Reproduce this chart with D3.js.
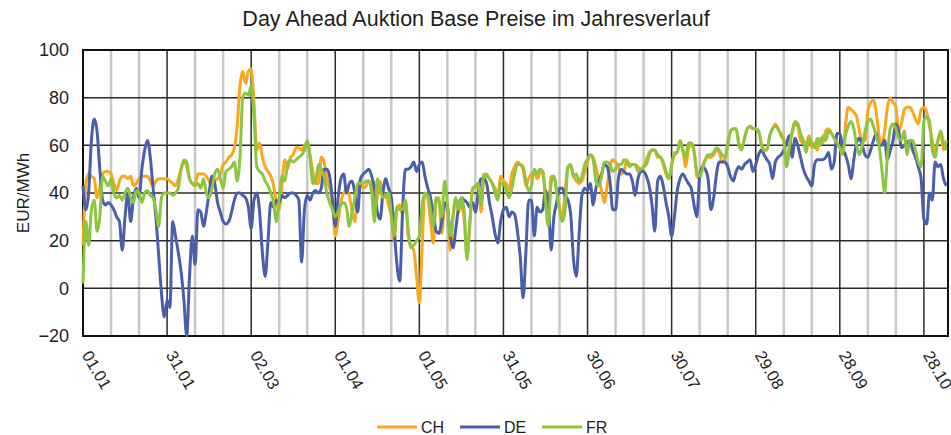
<!DOCTYPE html>
<html>
<head>
<meta charset="utf-8">
<script src="https://cdn.jsdelivr.net/npm/d3@7/dist/d3.min.js"></script>
<style>
body { margin: 0; background: #fff; }
text { font-family: "Liberation Sans", Arial, sans-serif; fill: #1e1e1e; }
</style>
</head>
<body>
<script>
window.document.addEventListener('DOMContentLoaded', init, false);

var width = 951;
var height = 435;
var margin = {top: 50, right: 3, bottom: 99, left: 83};
var svg, x, y;

// day index 0 = 01.01
var tickDays = [0, 30, 60, 90, 120, 150, 180, 210, 240, 270, 300];
var tickLabels = ['01.01', '31.01', '02.03', '01.04', '01.05', '31.05', '30.06', '30.07', '29.08', '28.09', '28.10'];
var minorDays = [10, 20, 40, 50, 70, 80, 100, 110, 130, 140, 160, 170, 190, 200, 220, 230, 250, 260, 280, 290];
var yTicks = [-20, 0, 20, 40, 60, 80, 100];
var seriesNames = ['CH', 'DE', 'FR'];

var chValues = [
    18, 44, 48, 47, 46, 38, 42, 48, 49, 49,
    48, 44, 41, 45, 47, 47, 46, 47, 43, 44,
    46, 47, 47, 47, 45, 43, 45, 46, 46, 46,
    46, 45, 44, 43, 46, 50, 53, 51, 46, 44,
    44, 48, 48, 48, 47, 45, 43, 45, 46, 48,
    52, 53, 55, 56, 59, 68, 85, 91, 86, 91,
    92, 78, 58, 61, 55, 51, 49, 47, 43, 36,
    33, 44, 54, 50, 55, 56, 59, 59, 58, 60,
    61, 56, 49, 44, 44, 55, 53, 46, 42, 36,
    22, 28, 36, 40, 41, 39, 32, 28, 42, 44,
    42, 43, 45, 43, 36, 38, 45, 40, 39, 35,
    30, 20, 34, 35, 31, 37, 22, 18, 16, 5,
    -6, 18, 40, 38, 28, 19, 37, 38, 23, 35,
    33, 16, 30, 38, 32, 35, 29, 14, 26, 42,
    42, 44, 32, 46, 48, 46, 44, 42, 39, 47,
    45, 44, 41, 48, 51, 53, 52, 50, 43, 46,
    48, 49, 46, 48, 49, 40, 33, 47, 47, 41,
    34, 30, 41, 51, 51, 47, 45, 44, 45, 49,
    53, 56, 55, 51, 46, 41, 36, 43, 51, 54,
    53, 51, 48, 49, 54, 52, 52, 52, 51, 49,
    51, 54, 57, 58, 58, 55, 55, 52, 48, 46,
    51, 57, 57, 62, 58, 51, 58, 61, 58, 47,
    46, 51, 54, 55, 55, 56, 58, 57, 53, 54,
    61, 66, 67, 67, 61, 59, 63, 67, 68, 67,
    67, 66, 61, 58, 58, 64, 67, 69, 67, 65,
    63, 51, 60, 65, 69, 68, 62, 61, 61, 64,
    59, 61, 58, 63, 61, 66, 67, 65, 63, 61,
    59, 56, 68, 76, 75, 74, 72, 66, 62, 62,
    74, 78, 79, 74, 64, 60, 66, 76, 80, 78,
    76, 66, 69, 75, 76, 76, 74, 71, 69, 75,
    76, 74, 68, 62, 57, 62, 65, 58, 62
];

var deValues = [
    43, 33, 40, 62, 71, 66, 50, 37, 35, 36,
    35, 33, 30, 28, 16, 30, 40, 28, 38, 42,
    38, 50, 58, 62, 55, 42, 30, 14, -2, -12,
    -5, -8, 28, 22, 15, 7, -5, -20, 5, 22,
    10, 33, 32, 26, 32, 40, 47, 44, 36, 32,
    28, 27, 28, 32, 37, 40, 40, 39, 38, 34,
    25, 37, 40, 32, 15, 5, 20, 36, 34, 37,
    36, 39, 38, 39, 40, 40, 39, 37, 11, 33,
    39, 37, 40, 41, 40, 42, 50, 50, 47, 37,
    26, 38, 46, 48, 40, 44, 45, 40, 32, 46,
    48, 49, 50, 47, 42, 32, 29, 40, 46, 42,
    38, 25, 10, 3, 32, 50, 50, 51, 53, 49,
    52, 53, 47, 42, 38, 31, 24, 23, 28, 36,
    34, 22, 17, 25, 34, 38, 37, 36, 34, 36,
    32, 40, 46, 46, 44, 36, 30, 23, 19, 28,
    33, 34, 30, 32, 31, 24, 13, -4, 15, 37,
    37, 22, 34, 32, 33, 41, 36, 16, 30, 36,
    42, 42, 39, 37, 31, 12, 5, 23, 39, 42,
    41, 44, 35, 42, 45, 48, 52, 51, 45, 33,
    33, 46, 50, 49, 48, 48, 45, 39, 46, 49,
    49, 47, 43, 35, 24, 45, 47, 43, 36, 30,
    22, 30, 41, 46, 48, 46, 44, 42, 35, 30,
    47, 51, 50, 46, 33, 38, 48, 53, 53, 53,
    51, 47, 45, 49, 51, 50, 52, 53, 54, 49,
    52, 56, 58, 56, 54, 52, 46, 53, 55, 56,
    58, 61, 64, 55, 63, 60, 55, 50, 47, 45,
    43, 52, 54, 54, 54, 55, 57, 50, 53, 65,
    65, 59, 56, 52, 46, 54, 61, 63, 60, 56,
    55, 58, 62, 65, 60, 60, 62, 54, 58, 62,
    69, 66, 59, 60, 61, 62, 58, 55, 51, 46,
    29, 27, 40, 37, 53, 51, 52, 46, 43
];

var frValues = [
    2, 28, 18, 33, 37, 24, 30, 47, 45, 43,
    46, 40, 38, 39, 37, 40, 42, 38, 36, 41,
    40, 36, 40, 41, 39, 38, 33, 26, 38, 40,
    40, 40, 39, 40, 42, 50, 54, 53, 46, 44,
    43, 44, 42, 46, 40, 38, 42, 48, 50, 46,
    42, 49, 50, 51, 53, 45, 55, 80, 82, 81,
    85, 72, 51, 49, 48, 45, 43, 40, 36, 28,
    38, 47, 45, 52, 54, 53, 54, 55, 56, 58,
    62, 55, 44, 45, 52, 50, 47, 40, 36, 33,
    30, 32, 35, 36, 34, 26, 32, 38, 44, 44,
    44, 45, 45, 40, 28, 46, 42, 38, 39, 40,
    31, 22, 34, 33, 33, 37, 25, 17, 18, 20,
    22, 35, 40, 39, 33, 26, 38, 36, 30, 45,
    36, 22, 30, 38, 33, 38, 32, 12, 28, 42,
    43, 44, 35, 48, 47, 46, 44, 40, 37, 44,
    44, 41, 38, 42, 48, 52, 52, 51, 45, 41,
    43, 50, 48, 50, 49, 37, 26, 44, 47, 40,
    33, 28, 33, 51, 52, 47, 48, 45, 47, 52,
    54, 56, 54, 45, 43, 47, 53, 53, 52, 49,
    50, 52, 52, 54, 53, 51, 52, 52, 49, 50,
    51, 52, 56, 58, 58, 56, 55, 53, 49, 46,
    52, 56, 57, 62, 58, 55, 61, 61, 57, 49,
    47, 50, 54, 56, 56, 57, 59, 58, 56, 55,
    60, 66, 67, 67, 60, 58, 63, 67, 68, 67,
    67, 66, 60, 58, 58, 64, 67, 68, 67, 64,
    62, 51, 59, 66, 70, 69, 65, 62, 57, 63,
    61, 59, 63, 60, 64, 62, 66, 65, 63, 61,
    59, 57, 64, 68, 70, 67, 60, 56, 60, 66,
    70, 71, 68, 64, 60, 50, 40, 56, 67, 69,
    67, 63, 62, 66, 56, 62, 62, 58, 53, 51,
    70, 72, 70, 58, 55, 62, 66, 61, 58
];

var colors = {CH: '#fba61c', DE: '#4a5eab', FR: '#8cc540'};

function init() {
    svg = createCanvas();
    x = d3.scaleLinear().domain([0, 308.6]).range([margin.left, width - margin.right]);
    y = d3.scaleLinear().domain([-20, 100]).range([height - margin.bottom, margin.top]);

    drawTitle();
    drawGrid();
    drawAxes();
    drawLines();
    drawLegend();
}

function createCanvas() {
    return d3.select('body')
        .append('svg')
        .attr('width', width)
        .attr('height', height);
}

function drawTitle() {
    svg.append('text')
        .attr('x', 476)
        .attr('y', 26)
        .attr('text-anchor', 'middle')
        .style('font-size', '21.5px')
        .text('Day Ahead Auktion Base Preise im Jahresverlauf');
}

function drawGrid() {
    var top = y(100), bottom = y(-20);
    // minor vertical lines every 10 days
    svg.append('g').selectAll('line')
        .data(minorDays)
        .join('line')
        .attr('x1', d => x(d)).attr('x2', d => x(d))
        .attr('y1', top).attr('y2', bottom)
        .attr('stroke', '#c8c8c8')
        .attr('stroke-width', 2.5);
    // major vertical lines at tick days
    svg.append('g').selectAll('line')
        .data(tickDays)
        .join('line')
        .attr('x1', d => x(d)).attr('x2', d => x(d))
        .attr('y1', top).attr('y2', bottom)
        .attr('stroke', '#2a2a2a')
        .attr('stroke-width', 1.5);
    // horizontal lines
    svg.append('g').selectAll('line')
        .data(yTicks)
        .join('line')
        .attr('x1', x.range()[0]).attr('x2', x.range()[1])
        .attr('y1', d => y(d)).attr('y2', d => y(d))
        .attr('stroke', '#2a2a2a')
        .attr('stroke-width', 1.5);
    // frame
    svg.append('rect')
        .attr('x', x.range()[0])
        .attr('y', top)
        .attr('width', x.range()[1] - x.range()[0])
        .attr('height', bottom - top)
        .attr('fill', 'none')
        .attr('stroke', '#111')
        .attr('stroke-width', 2);
}

function drawAxes() {
    var yAxis = d3.axisLeft(y).tickValues(yTicks).tickSize(0).tickPadding(14);
    var gy = svg.append('g')
        .attr('transform', 'translate(' + margin.left + ',0)')
        .call(yAxis);
    gy.select('.domain').remove();
    gy.selectAll('text').style('font-size', '18px').attr('fill', '#1e1e1e');

    var xAxis = d3.axisBottom(x).tickValues(tickDays)
        .tickFormat((d, i) => tickLabels[i]).tickSize(0);
    var gx = svg.append('g')
        .attr('transform', 'translate(0,' + y(-20) + ')')
        .call(xAxis);
    gx.select('.domain').remove();
    gx.selectAll('text')
        .style('font-size', '16.5px')
        .attr('fill', '#1e1e1e')
        .attr('text-anchor', 'start')
        .attr('dy', null)
        .attr('y', 0)
        .attr('transform', 'translate(-2,19) rotate(60)');

    svg.append('text')
        .attr('transform', 'translate(29,' + ((y(100) + y(-20)) / 2) + ') rotate(-90)')
        .attr('text-anchor', 'middle')
        .style('font-size', '17px')
        .text('EUR/MWh');
}

function drawLines() {
    var line = d3.line()
        .x((d, i) => x(i))
        .y(d => y(d))
        .curve(d3.curveMonotoneX);
    var data = [chValues, deValues, frValues];
    svg.append('g').selectAll('path')
        .data(data)
        .join('path')
        .attr('d', line)
        .attr('fill', 'none')
        .attr('stroke', (d, i) => colors[seriesNames[i]])
        .attr('stroke-width', 3)
        .attr('stroke-linejoin', 'round');
}

function drawLegend() {
    var legendX = [377, 460, 542];
    var g = svg.append('g').selectAll('g')
        .data(seriesNames)
        .join('g')
        .attr('transform', (d, i) => 'translate(' + legendX[i] + ',427)');
    g.append('line')
        .attr('x1', 0).attr('x2', 40)
        .attr('stroke', d => colors[d])
        .attr('stroke-width', 3);
    g.append('text')
        .attr('x', 44)
        .attr('y', 6)
        .style('font-size', '16px')
        .text(d => d);
}
</script>
</body>
</html>
